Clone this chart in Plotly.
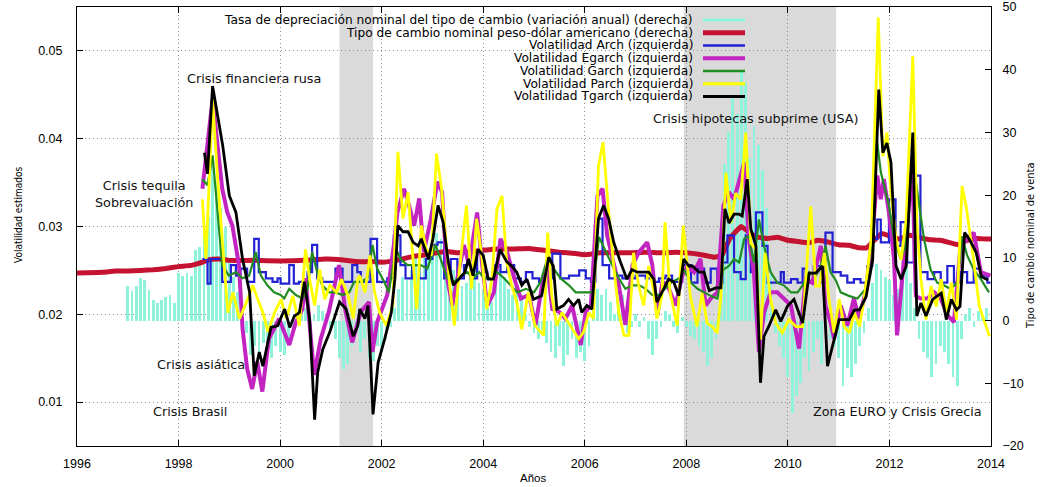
import plotly.graph_objects as go

W, H = 1041, 487
L, R, T, B = 77, 50, 7, 41
FONT = "Liberation Sans, Arial, sans-serif"
TXTFONT = "DejaVu Sans, Verdana, sans-serif"

# ---------------- data ----------------
# Tasa de depreciación nominal (variación anual, %), mensual desde ene-1997 (eje derecho)
dep_1997 = [5.5, 4.7, 5.5, 6.8, 6.5, 4.9, 3.3, 2.8, 3.3, 3.8, 4.1, 2.8]
dep_1998 = [7.6, 7.1, 7.6, 7.1, 11.3, 11.8, 14.0, 16.5, 26.0, 22.0, 18.0, 15.0]
dep_1999 = [10.0, 7.0, 4.5, 2.0, -2.0, -5.5, -4.0, -6.0, -3.5, -5.0, -6.0, -4.0]
dep_2000 = [-5.0, -5.5, -3.0, -1.0, 1.5, 3.0, 2.0, -1.0, 1.0, 2.5, 1.5, 0.5]
dep_2001 = [-1.5, -3.0, -6.0, -7.8, -7.0, -4.0, -2.0, -5.0, -3.0, -6.0, -6.5, -4.0]
dep_2002 = [-5.0, -3.0, -1.0, 2.0, 5.0, 7.0, 6.5, 8.0, 10.0, 9.0, 10.5, 11.0]
dep_2003 = [12.0, 14.0, 13.0, 9.0, 7.0, 8.0, 6.0, 5.5, 6.0, 7.0, 8.0, 6.0]
dep_2004 = [5.0, 2.0, 3.0, 6.0, 8.0, 7.0, 5.0, 4.0, 6.0, 4.0, 1.0, -1.0]
dep_2005 = [-2.0, -3.0, -1.5, -3.5, -5.0, -6.0, -4.0, -7.3, -5.5, -3.0, -6.0, -5.0]
dep_2006 = [-6.5, -4.0, 2.0, 5.0, 4.0, 5.0, 3.0, 1.0, 2.5, 4.0, -2.0, -1.0]
dep_2007 = [1.0, -1.0, 0.5, -3.0, -5.5, -3.0, -1.0, 1.5, 1.0, -1.0, -2.0, 0.5]
dep_2008 = [-1.0, -2.5, -3.0, -4.0, -5.0, -7.3, -6.0, -3.0, 5.0, 25.0, 30.0, 36.0]
dep_2009 = [33.0, 40.0, 38.0, 26.0, 31.0, 28.0, 24.0, 18.0, 8.0, -2.0, -4.0, -6.0]
dep_2010 = [-9.0, -14.8, -12.0, -10.0, -6.0, -8.0, -5.0, -3.0, -7.0, -5.0, -3.0, -4.0]
dep_2011 = [-6.0, -10.5, -7.5, -9.0, -7.0, -4.0, -2.0, 2.0, 6.0, 9.0, 8.0, 7.0]
dep_2012 = [6.5, 4.0, 5.0, 7.0, 9.0, 6.0, 2.0, -3.0, -5.0, -6.0, -9.0, -7.0]
dep_2013 = [-4.0, -5.0, -7.0, -9.0, -10.5, -3.0, 1.0, 2.0, -1.0, 1.5, 0.5, 2.0]
depreciacion = (dep_1997 + dep_1998 + dep_1999 + dep_2000 + dep_2001 + dep_2002 + dep_2003
                + dep_2004 + dep_2005 + dep_2006 + dep_2007 + dep_2008 + dep_2009 + dep_2010
                + dep_2011 + dep_2012 + dep_2013)
dep_x = [1997 + i / 12 for i in range(len(depreciacion))]

# Tipo de cambio nominal peso-dólar (eje derecho)
tipo_cambio = [(1996.0, 7.6), (1996.5, 7.7), (1996.75, 7.9), (1997.0, 7.9), (1997.25, 8.0), (1997.5, 8.1),
               (1997.75, 8.3), (1998.0, 8.6), (1998.25, 8.8), (1998.5, 9.4), (1998.6, 9.7), (1998.8, 9.8),
               (1999.0, 9.6), (1999.5, 9.6), (2000.0, 9.5), (2000.5, 9.6), (2000.9, 9.8), (2001.2, 9.7),
               (2001.5, 9.4), (2001.8, 9.4), (2002.0, 9.3), (2002.3, 9.6), (2002.6, 10.2), (2002.8, 10.4),
               (2003.0, 10.7), (2003.3, 11.0), (2003.5, 10.8), (2003.75, 11.0), (2004.0, 11.2), (2004.3, 11.4),
               (2004.6, 11.4), (2004.9, 11.5), (2005.2, 11.2), (2005.5, 10.9), (2005.8, 10.7), (2006.0, 10.5),
               (2006.3, 10.8), (2006.6, 10.8), (2006.9, 10.8), (2007.2, 10.9), (2007.5, 10.8), (2007.8, 10.9),
               (2008.0, 10.8), (2008.3, 10.5), (2008.55, 10.1), (2008.7, 10.4), (2008.85, 13.0), (2009.0, 14.4),
               (2009.08, 15.0), (2009.25, 14.0), (2009.4, 13.3), (2009.6, 13.1), (2009.8, 13.3), (2010.0, 12.8),
               (2010.2, 12.6), (2010.4, 12.4), (2010.6, 12.8), (2010.8, 12.5), (2011.0, 12.1), (2011.2, 12.0),
               (2011.4, 11.6), (2011.55, 11.6), (2011.7, 12.8), (2011.85, 13.9), (2012.0, 13.5), (2012.2, 13.0),
               (2012.4, 13.6), (2012.6, 13.2), (2012.8, 12.9), (2013.0, 12.8), (2013.2, 12.4), (2013.35, 12.1),
               (2013.5, 12.7), (2013.7, 13.1), (2013.9, 13.0), (2014.0, 13.0)]

# Volatilidad Arch (escalones)
arch = [(1998.47, 0.0263), (1998.57, 0.0235), (1998.63, 0.0263), (1998.86, 0.0237), (1999.03, 0.0256),
        (1999.13, 0.0244), (1999.22, 0.0252), (1999.35, 0.0237), (1999.49, 0.0286), (1999.58, 0.0248),
        (1999.72, 0.0241), (1999.85, 0.0237), (1999.95, 0.0241), (2000.01, 0.0235), (2000.18, 0.0256),
        (2000.27, 0.0235), (2000.37, 0.0237), (2000.54, 0.0248), (2000.63, 0.0279), (2000.73, 0.0241),
        (2000.83, 0.0237), (2001.09, 0.0252), (2001.23, 0.0237), (2001.42, 0.0256), (2001.52, 0.0248),
        (2001.59, 0.0237), (2001.78, 0.0286), (2001.91, 0.0237), (2002.11, 0.0241), (2002.24, 0.0290),
        (2002.37, 0.0256), (2002.47, 0.0241), (2002.60, 0.0256), (2002.74, 0.0241), (2002.87, 0.0263),
        (2003.00, 0.0279), (2003.10, 0.0282), (2003.23, 0.0241), (2003.36, 0.0263), (2003.49, 0.0241),
        (2003.62, 0.0256), (2003.75, 0.0241), (2003.88, 0.0271), (2003.98, 0.0248), (2004.08, 0.0241),
        (2004.21, 0.0256), (2004.34, 0.0248), (2004.47, 0.0256), (2004.61, 0.0241), (2004.74, 0.0237),
        (2004.84, 0.0248), (2004.97, 0.0241), (2005.10, 0.0237), (2005.23, 0.0241), (2005.36, 0.0269),
        (2005.52, 0.0241), (2005.69, 0.0244), (2005.89, 0.0250), (2006.02, 0.0241), (2006.12, 0.0237),
        (2006.21, 0.0309), (2006.35, 0.0256), (2006.48, 0.0241), (2006.61, 0.0244), (2006.74, 0.0241),
        (2007.00, 0.0244), (2007.20, 0.0241), (2007.33, 0.0237), (2007.46, 0.0241), (2007.59, 0.0244),
        (2007.72, 0.0237), (2007.92, 0.0256), (2008.09, 0.0236), (2008.22, 0.0252), (2008.35, 0.0236),
        (2008.48, 0.0252), (2008.61, 0.0236), (2008.71, 0.0259), (2008.81, 0.0290), (2008.94, 0.0248),
        (2009.07, 0.0240), (2009.17, 0.0290), (2009.27, 0.0248), (2009.37, 0.0316), (2009.50, 0.0278),
        (2009.60, 0.0236), (2009.86, 0.0248), (2009.92, 0.0236), (2010.06, 0.0240), (2010.19, 0.0236),
        (2010.29, 0.0252), (2010.35, 0.0236), (2010.51, 0.0255), (2010.65, 0.0236), (2010.74, 0.0293),
        (2010.88, 0.0248), (2011.04, 0.0244), (2011.17, 0.0236), (2011.30, 0.0240), (2011.43, 0.0236),
        (2011.56, 0.0255), (2011.66, 0.0286), (2011.76, 0.0308), (2011.83, 0.0282), (2011.99, 0.0331),
        (2012.12, 0.0278), (2012.22, 0.0305), (2012.35, 0.0259), (2012.48, 0.0358), (2012.61, 0.0248),
        (2012.75, 0.0240), (2012.88, 0.0248), (2013.01, 0.0236), (2013.14, 0.0255), (2013.27, 0.0236),
        (2013.40, 0.0248), (2013.53, 0.0236), (2013.66, 0.0252), (2013.80, 0.0244), (2013.93, 0.0236),
        (2013.99, 0.0236)]

# Volatilidad Egarch
egarch = [(1998.47, 0.0343), (1998.67, 0.0445), (1998.86, 0.0343), (1998.96, 0.0316), (1999.06, 0.0301),
          (1999.19, 0.0256), (1999.26, 0.0184), (1999.35, 0.0138), (1999.45, 0.0115), (1999.55, 0.0146),
          (1999.65, 0.0112), (1999.78, 0.0172), (1999.98, 0.0195), (2000.18, 0.0165), (2000.31, 0.0191),
          (2000.44, 0.0206), (2000.50, 0.0241), (2000.67, 0.0131), (2000.80, 0.0172), (2000.96, 0.0203),
          (2001.16, 0.0256), (2001.29, 0.0203), (2001.42, 0.0168), (2001.59, 0.0203), (2001.75, 0.0214),
          (2001.82, 0.0157), (2001.91, 0.0191), (2002.11, 0.0222), (2002.24, 0.0279), (2002.31, 0.0316),
          (2002.44, 0.0343), (2002.54, 0.0324), (2002.64, 0.0301), (2002.74, 0.0332), (2002.83, 0.0271),
          (2002.97, 0.0309), (2003.10, 0.0351), (2003.19, 0.0339), (2003.29, 0.0241), (2003.39, 0.0210),
          (2003.49, 0.0241), (2003.62, 0.0279), (2003.72, 0.0256), (2003.88, 0.0316), (2003.98, 0.0256),
          (2004.08, 0.0210), (2004.21, 0.0225), (2004.34, 0.0286), (2004.47, 0.0271), (2004.61, 0.0241),
          (2004.74, 0.0218), (2004.90, 0.0222), (2005.03, 0.0188), (2005.16, 0.0233), (2005.26, 0.0256),
          (2005.36, 0.0206), (2005.49, 0.0203), (2005.62, 0.0195), (2005.75, 0.0210), (2005.92, 0.0165),
          (2006.02, 0.0203), (2006.12, 0.0210), (2006.25, 0.0335), (2006.35, 0.0343), (2006.44, 0.0290),
          (2006.54, 0.0263), (2006.67, 0.0233), (2006.80, 0.0188), (2006.94, 0.0256), (2007.07, 0.0271),
          (2007.23, 0.0282), (2007.33, 0.0256), (2007.43, 0.0199), (2007.53, 0.0237), (2007.63, 0.0233),
          (2007.79, 0.0210), (2007.92, 0.0244), (2008.02, 0.0255), (2008.15, 0.0248), (2008.28, 0.0263),
          (2008.38, 0.0210), (2008.48, 0.0218), (2008.61, 0.0225), (2008.73, 0.0324), (2008.84, 0.0339),
          (2008.94, 0.0331), (2009.04, 0.0354), (2009.14, 0.0373), (2009.23, 0.0286), (2009.33, 0.0248),
          (2009.43, 0.0157), (2009.53, 0.0202), (2009.66, 0.0225), (2009.79, 0.0225), (2009.92, 0.0218),
          (2010.06, 0.0210), (2010.22, 0.0161), (2010.35, 0.0240), (2010.48, 0.0236), (2010.65, 0.0278),
          (2010.74, 0.0210), (2010.84, 0.0191), (2010.91, 0.0172), (2011.04, 0.0210), (2011.17, 0.0187),
          (2011.30, 0.0218), (2011.40, 0.0195), (2011.53, 0.0225), (2011.66, 0.0286), (2011.76, 0.0358),
          (2011.83, 0.0331), (2011.89, 0.0354), (2011.99, 0.0316), (2012.09, 0.0263), (2012.15, 0.0176),
          (2012.25, 0.0237), (2012.38, 0.0316), (2012.45, 0.0369), (2012.52, 0.0221), (2012.61, 0.0218),
          (2012.75, 0.0218), (2012.88, 0.0225), (2013.01, 0.0218), (2013.14, 0.0199), (2013.27, 0.0191),
          (2013.40, 0.0278), (2013.53, 0.0286), (2013.66, 0.0293), (2013.80, 0.0248), (2013.99, 0.0244)]

# Volatilidad Garch
garch = [(1998.47, 0.0354), (1998.57, 0.0347), (1998.67, 0.0381), (1998.76, 0.0324), (1998.86, 0.0256),
         (1998.99, 0.0244), (1999.13, 0.0248), (1999.26, 0.0241), (1999.39, 0.0244), (1999.52, 0.0271),
         (1999.62, 0.0244), (1999.75, 0.0233), (1999.88, 0.0225), (2000.01, 0.0222), (2000.08, 0.0218),
         (2000.18, 0.0229), (2000.31, 0.0222), (2000.44, 0.0218), (2000.54, 0.0229), (2000.63, 0.0271),
         (2000.73, 0.0248), (2000.83, 0.0233), (2000.96, 0.0225), (2001.09, 0.0225), (2001.23, 0.0222),
         (2001.36, 0.0225), (2001.46, 0.0237), (2001.59, 0.0237), (2001.72, 0.0241), (2001.82, 0.0279),
         (2001.91, 0.0252), (2002.05, 0.0237), (2002.14, 0.0225), (2002.28, 0.0275), (2002.37, 0.0263),
         (2002.51, 0.0256), (2002.64, 0.0256), (2002.77, 0.0256), (2002.90, 0.0252), (2003.06, 0.0279),
         (2003.16, 0.0263), (2003.29, 0.0241), (2003.43, 0.0237), (2003.56, 0.0244), (2003.69, 0.0248),
         (2003.79, 0.0241), (2003.92, 0.0248), (2004.02, 0.0241), (2004.15, 0.0241), (2004.28, 0.0248),
         (2004.41, 0.0241), (2004.54, 0.0233), (2004.67, 0.0225), (2004.84, 0.0229), (2005.00, 0.0225),
         (2005.13, 0.0237), (2005.26, 0.0263), (2005.39, 0.0252), (2005.52, 0.0241), (2005.69, 0.0233),
         (2005.82, 0.0225), (2006.02, 0.0225), (2006.15, 0.0225), (2006.28, 0.0288), (2006.41, 0.0271),
         (2006.54, 0.0256), (2006.67, 0.0241), (2006.80, 0.0229), (2006.94, 0.0233), (2007.07, 0.0233),
         (2007.20, 0.0229), (2007.33, 0.0222), (2007.46, 0.0222), (2007.59, 0.0229), (2007.72, 0.0237),
         (2007.86, 0.0241), (2007.95, 0.0251), (2008.09, 0.0236), (2008.22, 0.0229), (2008.35, 0.0225),
         (2008.48, 0.0221), (2008.61, 0.0218), (2008.73, 0.0251), (2008.84, 0.0255), (2008.94, 0.0263),
         (2009.04, 0.0259), (2009.14, 0.0286), (2009.23, 0.0289), (2009.33, 0.0259), (2009.43, 0.0308),
         (2009.53, 0.0278), (2009.66, 0.0248), (2009.79, 0.0236), (2009.92, 0.0233), (2010.06, 0.0225),
         (2010.19, 0.0225), (2010.29, 0.0233), (2010.42, 0.0248), (2010.55, 0.0244), (2010.65, 0.0255),
         (2010.74, 0.0278), (2010.84, 0.0248), (2010.95, 0.0238), (2011.04, 0.0225), (2011.20, 0.0221),
         (2011.37, 0.0218), (2011.53, 0.0229), (2011.66, 0.0286), (2011.75, 0.0400), (2011.83, 0.0362),
         (2011.89, 0.0347), (2011.99, 0.0324), (2012.09, 0.0286), (2012.22, 0.0263), (2012.32, 0.0278),
         (2012.45, 0.0381), (2012.55, 0.0339), (2012.68, 0.0286), (2012.81, 0.0251), (2012.94, 0.0236),
         (2013.07, 0.0233), (2013.20, 0.0229), (2013.34, 0.0236), (2013.43, 0.0289), (2013.53, 0.0267),
         (2013.66, 0.0251), (2013.80, 0.0240), (2013.96, 0.0225)]

# Volatilidad Parch
parch = [(1998.47, 0.0331), (1998.54, 0.0263), (1998.67, 0.0445), (1998.77, 0.0354), (1998.87, 0.0278),
         (1998.97, 0.0202), (1999.07, 0.0225), (1999.20, 0.0195), (1999.36, 0.0217), (1999.46, 0.0233),
         (1999.56, 0.0217), (1999.66, 0.0202), (1999.76, 0.0180), (1999.89, 0.0202), (2000.02, 0.0217),
         (2000.12, 0.0195), (2000.25, 0.0221), (2000.38, 0.0187), (2000.50, 0.0274), (2000.58, 0.0240),
         (2000.68, 0.0210), (2000.78, 0.0251), (2000.88, 0.0217), (2000.98, 0.0233), (2001.11, 0.0225),
         (2001.21, 0.0240), (2001.34, 0.0221), (2001.44, 0.0195), (2001.53, 0.0240), (2001.57, 0.0244),
         (2001.67, 0.0225), (2001.77, 0.0267), (2001.86, 0.0225), (2001.96, 0.0202), (2002.09, 0.0187),
         (2002.22, 0.0210), (2002.32, 0.0385), (2002.42, 0.0309), (2002.52, 0.0339), (2002.62, 0.0255),
         (2002.69, 0.0206), (2002.78, 0.0301), (2002.88, 0.0274), (2002.98, 0.0267), (2003.08, 0.0383),
         (2003.18, 0.0343), (2003.28, 0.0270), (2003.34, 0.0233), (2003.43, 0.0187), (2003.54, 0.0255),
         (2003.67, 0.0324), (2003.77, 0.0229), (2003.87, 0.0309), (2003.97, 0.0267), (2004.07, 0.0206),
         (2004.17, 0.0240), (2004.27, 0.0320), (2004.37, 0.0335), (2004.46, 0.0260), (2004.56, 0.0233),
         (2004.66, 0.0214), (2004.76, 0.0183), (2004.89, 0.0225), (2005.02, 0.0187), (2005.19, 0.0176),
         (2005.27, 0.0293), (2005.35, 0.0221), (2005.45, 0.0187), (2005.55, 0.0202), (2005.68, 0.0190),
         (2005.88, 0.0172), (2005.98, 0.0180), (2006.08, 0.0202), (2006.17, 0.0195), (2006.27, 0.0369),
         (2006.36, 0.0396), (2006.47, 0.0316), (2006.57, 0.0255), (2006.67, 0.0202), (2006.77, 0.0176),
         (2006.87, 0.0176), (2006.96, 0.0270), (2007.06, 0.0233), (2007.16, 0.0210), (2007.26, 0.0255),
         (2007.36, 0.0225), (2007.42, 0.0195), (2007.52, 0.0221), (2007.58, 0.0305), (2007.68, 0.0225),
         (2007.82, 0.0187), (2007.94, 0.0301), (2008.08, 0.0220), (2008.21, 0.0186), (2008.31, 0.0224),
         (2008.41, 0.0190), (2008.51, 0.0186), (2008.61, 0.0179), (2008.68, 0.0220), (2008.78, 0.0361),
         (2008.88, 0.0304), (2008.97, 0.0338), (2009.07, 0.0331), (2009.17, 0.0407), (2009.27, 0.0281),
         (2009.37, 0.0274), (2009.46, 0.0171), (2009.55, 0.0270), (2009.66, 0.0217), (2009.76, 0.0190),
         (2009.89, 0.0179), (2010.02, 0.0194), (2010.16, 0.0186), (2010.29, 0.0186), (2010.45, 0.0323),
         (2010.55, 0.0232), (2010.62, 0.0232), (2010.72, 0.0270), (2010.81, 0.0217), (2010.91, 0.0179),
         (2011.01, 0.0217), (2011.11, 0.0186), (2011.21, 0.0179), (2011.31, 0.0202), (2011.41, 0.0186),
         (2011.50, 0.0217), (2011.64, 0.0285), (2011.78, 0.0538), (2011.87, 0.0380), (2011.95, 0.0407),
         (2012.03, 0.0338), (2012.13, 0.0285), (2012.23, 0.0262), (2012.33, 0.0308), (2012.46, 0.0494),
         (2012.54, 0.0304), (2012.62, 0.0240), (2012.72, 0.0194), (2012.82, 0.0232), (2012.92, 0.0209),
         (2013.02, 0.0240), (2013.12, 0.0202), (2013.22, 0.0236), (2013.32, 0.0194), (2013.43, 0.0346),
         (2013.51, 0.0323), (2013.64, 0.0270), (2013.77, 0.0209), (2013.91, 0.0186), (2013.97, 0.0175)]

# Volatilidad Tgarch
tgarch = [(1998.51, 0.0384), (1998.57, 0.0360), (1998.67, 0.0460), (1998.87, 0.0392), (1999.00, 0.0335),
          (1999.13, 0.0316), (1999.26, 0.0263), (1999.40, 0.0225), (1999.49, 0.0130), (1999.59, 0.0157),
          (1999.66, 0.0141), (1999.82, 0.0185), (1999.95, 0.0187), (2000.09, 0.0206), (2000.19, 0.0185),
          (2000.28, 0.0198), (2000.38, 0.0202), (2000.48, 0.0237), (2000.58, 0.0195), (2000.68, 0.0080),
          (2000.74, 0.0134), (2000.84, 0.0160), (2000.98, 0.0180), (2001.17, 0.0214), (2001.30, 0.0206),
          (2001.44, 0.0175), (2001.53, 0.0187), (2001.57, 0.0206), (2001.67, 0.0195), (2001.73, 0.0210),
          (2001.83, 0.0086), (2001.93, 0.0145), (2002.06, 0.0172), (2002.19, 0.0202), (2002.26, 0.0240),
          (2002.32, 0.0301), (2002.42, 0.0294), (2002.52, 0.0294), (2002.62, 0.0282), (2002.72, 0.0278),
          (2002.78, 0.0286), (2002.92, 0.0263), (2003.01, 0.0286), (2003.11, 0.0324), (2003.21, 0.0305),
          (2003.31, 0.0260), (2003.41, 0.0233), (2003.51, 0.0240), (2003.64, 0.0248), (2003.71, 0.0263),
          (2003.80, 0.0244), (2003.90, 0.0274), (2004.00, 0.0267), (2004.10, 0.0240), (2004.20, 0.0240),
          (2004.33, 0.0274), (2004.46, 0.0260), (2004.56, 0.0255), (2004.66, 0.0248), (2004.76, 0.0233),
          (2004.86, 0.0240), (2004.99, 0.0217), (2005.15, 0.0221), (2005.29, 0.0265), (2005.38, 0.0255),
          (2005.45, 0.0206), (2005.58, 0.0210), (2005.68, 0.0217), (2005.78, 0.0210), (2005.88, 0.0217),
          (2005.94, 0.0202), (2006.04, 0.0210), (2006.14, 0.0206), (2006.27, 0.0309), (2006.37, 0.0324),
          (2006.47, 0.0309), (2006.57, 0.0282), (2006.70, 0.0260), (2006.83, 0.0240), (2006.93, 0.0251),
          (2007.03, 0.0248), (2007.13, 0.0248), (2007.26, 0.0248), (2007.36, 0.0240), (2007.42, 0.0214),
          (2007.52, 0.0225), (2007.65, 0.0240), (2007.75, 0.0237), (2007.85, 0.0221), (2007.95, 0.0263),
          (2008.05, 0.0255), (2008.12, 0.0255), (2008.25, 0.0248), (2008.35, 0.0248), (2008.45, 0.0227),
          (2008.58, 0.0230), (2008.68, 0.0230), (2008.76, 0.0320), (2008.84, 0.0304), (2008.94, 0.0314),
          (2009.04, 0.0314), (2009.10, 0.0312), (2009.20, 0.0354), (2009.27, 0.0297), (2009.37, 0.0278),
          (2009.46, 0.0122), (2009.53, 0.0175), (2009.63, 0.0187), (2009.76, 0.0205), (2009.86, 0.0192),
          (2009.99, 0.0209), (2010.12, 0.0217), (2010.29, 0.0190), (2010.42, 0.0247), (2010.55, 0.0247),
          (2010.68, 0.0255), (2010.78, 0.0141), (2010.88, 0.0164), (2011.01, 0.0194), (2011.08, 0.0194),
          (2011.21, 0.0194), (2011.31, 0.0205), (2011.41, 0.0205), (2011.54, 0.0220), (2011.67, 0.0262),
          (2011.79, 0.0456), (2011.87, 0.0384), (2011.95, 0.0395), (2012.03, 0.0373), (2012.13, 0.0255),
          (2012.23, 0.0240), (2012.33, 0.0255), (2012.46, 0.0407), (2012.54, 0.0198), (2012.62, 0.0213),
          (2012.72, 0.0198), (2012.85, 0.0217), (2013.02, 0.0224), (2013.12, 0.0194), (2013.22, 0.0217),
          (2013.32, 0.0205), (2013.39, 0.0209), (2013.48, 0.0293), (2013.58, 0.0285), (2013.71, 0.0270),
          (2013.81, 0.0243), (2013.94, 0.0239)]

# Periodos sombreados
sombreados = [(2001.17, 2001.83), (2007.95, 2010.95)]

# Etiquetas de crisis (texto, año, volatilidad)
crisis = [("Crisis financiera rusa", 1999.49, 0.0469),
          ("Crisis tequila<br>Sobrevaluación", 1997.31, 0.0337),
          ("Crisis asiática", 1998.44, 0.0143),
          ("Crisis Brasil", 1998.23, 0.0089),
          ("Crisis hipotecas subprime (USA)", 2009.37, 0.0423),
          ("Zona EURO y Crisis Grecia", 2012.15, 0.0089)]

x_ticks = [1996, 1998, 2000, 2002, 2004, 2006, 2008, 2010, 2012, 2014]
vol_ticks = [0.01, 0.02, 0.03, 0.04, 0.05]
tc_ticks = [-20, -10, 0, 10, 20, 30, 40, 50]

# ---------------- style ----------------
series = [
    ("Tasa de depreciación nominal del tipo de cambio (variación anual) (derecha)", "#8ef3da", 3.0),
    ("Tipo de cambio nominal peso-dólar americano (derecha)", "#c41230", 5.0),
    ("Volatilidad Arch (izquierda)", "#2222d4", 2.2),
    ("Volatilidad Egarch (izquierda)", "#c224c2", 4.0),
    ("Volatilidad Garch (izquierda)", "#228b22", 2.2),
    ("Volatilidad Parch (izquierda)", "#ffff00", 2.8),
    ("Volatilidad Tgarch (izquierda)", "#000000", 2.8),
]

fig = go.Figure()

fig.add_trace(go.Bar(x=dep_x, y=depreciacion, width=0.055, base=0,
                     marker=dict(color=series[0][1], line=dict(width=0)),
                     yaxis="y", showlegend=False))
fig.add_trace(go.Scatter(x=[p[0] for p in tipo_cambio], y=[p[1] for p in tipo_cambio],
                         mode="lines", line=dict(color=series[1][1], width=series[1][2], shape="spline", smoothing=0.3),
                         yaxis="y", showlegend=False))

def add_vol(data, idx, shape="linear"):
    fig.add_trace(go.Scatter(x=[p[0] for p in data], y=[p[1] for p in data], mode="lines",
                             line=dict(color=series[idx][1], width=series[idx][2], shape=shape),
                             yaxis="y2", showlegend=False))

add_vol(arch, 2, "hv")
add_vol(egarch, 3)
add_vol(garch, 4)
add_vol(parch, 5)
add_vol(tgarch, 6)

pw = W - L - R
ph = H - T - B
def pxx(px):
    return (px - L) / pw
def pxy(py):
    return (H - B - py) / ph

shapes = []
for a, b in sombreados:
    shapes.append(dict(type="rect", xref="x", yref="paper", x0=a, x1=b, y0=0, y1=1,
                       fillcolor="#dadada", line=dict(width=0), layer="between"))

annotations = []
# legend (manual, text right aligned with sample on the right)
for i, (name, col, wdt) in enumerate(series):
    yy = 20 + i * 12.75
    annotations.append(dict(text=name, xref="paper", yref="paper", x=pxx(694), y=pxy(yy),
                            xanchor="right", yanchor="middle", showarrow=False, borderpad=0,
                            font=dict(family=TXTFONT, size=12.2, color="#000")))
    shapes.append(dict(type="line", xref="paper", yref="paper", x0=pxx(703), x1=pxx(745),
                       y0=pxy(yy), y1=pxy(yy), line=dict(color=col, width=max(wdt, 2.5)), layer="above"))

for txt, xv, yv in crisis:
    annotations.append(dict(text=txt, xref="x", yref="y2", x=xv, y=yv, showarrow=False,
                            xanchor="center", yanchor="middle",
                            font=dict(family=TXTFONT, size=12.8, color="#111")))

annotations.append(dict(text="Años", xref="paper", yref="paper", x=pxx(533), y=pxy(478),
                        xanchor="center", yanchor="middle",
                        showarrow=False, font=dict(family=FONT, size=11.5, color="#000")))
annotations.append(dict(text="Volatilidad estimados", xref="paper", yref="paper", x=pxx(18), y=pxy(215),
                        xanchor="center", yanchor="middle",
                        showarrow=False, textangle=-90,
                        font=dict(family="DejaVu Sans Condensed, Liberation Sans Narrow, Liberation Sans", size=10, color="#000")))
annotations.append(dict(text="Tipo de cambio nominal de venta", xref="paper", yref="paper", x=pxx(1030), y=pxy(246),
                        xanchor="center", yanchor="middle",
                        showarrow=False, textangle=-90,
                        font=dict(family="DejaVu Sans Condensed, Liberation Sans Narrow, Liberation Sans", size=11, color="#000")))

tickfont = dict(family=FONT, size=12.5, color="#000")
grid_dash = "1px,3px"
fig.update_layout(
    width=W, height=H,
    margin=dict(l=L, r=R, t=T, b=B, pad=0, autoexpand=False),
    paper_bgcolor="white", plot_bgcolor="white",
    showlegend=False, bargap=0,
    shapes=shapes, annotations=annotations,
    xaxis=dict(range=[1996, 2014], tickvals=x_ticks, ticktext=[str(v) for v in x_ticks],
               ticks="inside", ticklen=6, tickcolor="#000", showline=True, linecolor="#000", linewidth=1,
               mirror="ticks", showgrid=True, gridcolor="#8c8c8c", griddash=grid_dash, gridwidth=1,
               zeroline=False, tickfont=tickfont, ticklabelstandoff=6, automargin=False),
    yaxis=dict(range=[-20, 50], side="right", tickvals=tc_ticks, ticks="inside", ticklen=6, tickcolor="#000",
               showline=True, linecolor="#000", linewidth=1, showgrid=False, zeroline=False,
               tickfont=tickfont, ticklabelstandoff=8, automargin=False),
    yaxis2=dict(range=[0.005, 0.055], side="left", overlaying="y", tickvals=vol_ticks,
                ticktext=["0.01", "0.02", "0.03", "0.04", "0.05"],
                ticks="inside", ticklen=6, tickcolor="#000", showline=True, linecolor="#000", linewidth=1,
                showgrid=True, gridcolor="#8c8c8c", griddash=grid_dash, gridwidth=1, zeroline=False,
                tickfont=tickfont, ticklabelstandoff=11, automargin=False),
)

fig.write_html("out.html", config={"displayModeBar": False},
               post_script="document.body.style.margin='0px';document.body.style.padding='0px';")
